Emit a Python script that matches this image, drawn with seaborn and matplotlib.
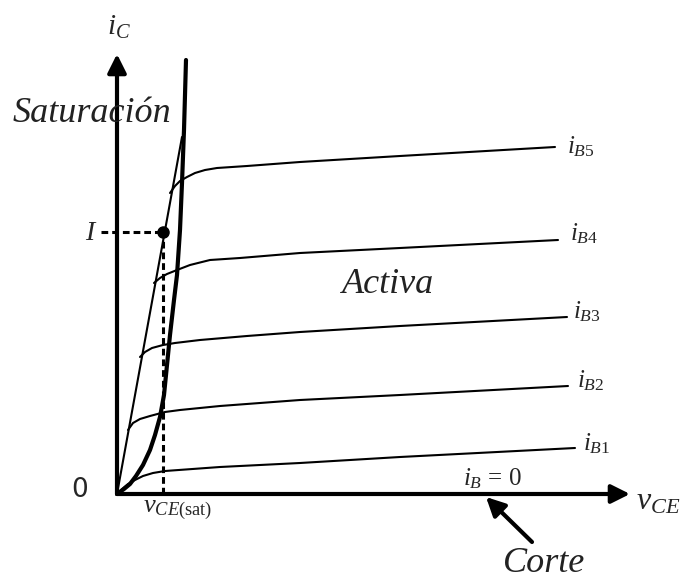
import numpy as np
import pandas as pd
import matplotlib
matplotlib.use("Agg")
import matplotlib.pyplot as plt
import seaborn as sns

# ---- data (x = v_CE, y = i_C, arbitrary units measured from origin) ----
ib5_x = [53, 58, 63, 70, 78, 88, 100, 130, 183, 283, 438]
ib5_y = [301, 308, 313, 317, 321, 324, 326, 328, 332, 338, 347]
ib4_x = [37, 43, 50, 60, 73, 93, 123, 183, 283, 441]
ib4_y = [211, 216, 220, 224, 229, 234, 236, 241, 246, 254]
ib3_x = [23, 28, 35, 46, 58, 83, 130, 183, 283, 450]
ib3_y = [137, 142, 146, 149, 151, 154, 158, 162, 168, 177]
ib2_x = [11, 16, 23, 33, 48, 63, 103, 183, 283, 451]
ib2_y = [64, 71, 75, 78, 82, 84, 88, 94, 99, 108]
ib1_x = [0, 5, 11, 18, 26, 36, 48, 103, 183, 283, 458]
ib1_y = [0, 5, 10, 14, 18, 21, 23, 27, 31, 37, 46]
ohmic_x = [0, 65]
ohmic_y = [0, 357]
sat_x = [0, 7, 13, 19, 26, 33, 38, 43, 47, 50, 53, 57, 60, 63, 65, 67, 69]
sat_y = [0, 5, 10, 18, 29, 44, 59, 77, 99, 129, 159, 194, 219, 264, 311, 364, 434]
q_x, q_y = 46, 262          # operating point (v_CE(sat), I)
curve_labels = [r"$i_{\mathit{B5}}$", r"$i_{\mathit{B4}}$", r"$i_{\mathit{B3}}$",
                r"$i_{\mathit{B2}}$", r"$i_{\mathit{B1}}$"]

sns.set_theme(style="white")
plt.rcParams["mathtext.fontset"] = "custom"
plt.rcParams["mathtext.it"] = "Liberation Serif:italic"
plt.rcParams["mathtext.rm"] = "Liberation Serif"
plt.rcParams["mathtext.bf"] = "Liberation Serif:bold"

fig = plt.figure(figsize=(6.83, 5.81), dpi=100)
ax = fig.add_axes([0, 0, 1, 1])
ax.set_xlim(-117, 566)
ax.set_ylim(-87, 494)
ax.axis("off")

curves = [(ib5_x, ib5_y), (ib4_x, ib4_y), (ib3_x, ib3_y), (ib2_x, ib2_y), (ib1_x, ib1_y)]
for cx, cy in curves:
    sns.lineplot(x=cx, y=cy, sort=False, estimator=None, color="black", lw=1.5,
                 solid_joinstyle="round", ax=ax)
sns.lineplot(x=ohmic_x, y=ohmic_y, sort=False, estimator=None, color="black", lw=1.5, ax=ax)
sns.lineplot(x=sat_x, y=sat_y, sort=False, estimator=None, color="black", lw=3.0,
             solid_joinstyle="round", ax=ax)

# dashed guides and point
ax.plot([q_x, q_x], [0, q_y], color="black", lw=2.2, ls=(0, (2.2, 1.3)))
ax.plot([-16, q_x], [q_y, q_y], color="black", lw=2.2, ls=(0, (2.2, 1.3)))
ax.plot([q_x], [q_y], "o", color="black", ms=8)

# axes arrows
arrow_kw = dict(arrowstyle="-|>", lw=3, color="black", mutation_scale=28,
                shrinkA=0, shrinkB=0)
ax.annotate("", xy=(513, 0), xytext=(0, 0), arrowprops=arrow_kw)
ax.annotate("", xy=(0, 440), xytext=(0, 0), arrowprops=arrow_kw)
# Corte arrow
ax.annotate("", xy=(369, -3), xytext=(415, -48), arrowprops=arrow_kw)

serif = "Liberation Serif"
ax.text(-10, 459, r"$i_C$", fontsize=21, ha="left", va="baseline")
ax.text(-104, 372, "Saturación", fontsize=26, family=serif, style="italic",
        ha="left", va="baseline", color="#222222")
ax.text(-32, 254, "I", fontsize=20, family=serif, style="italic", ha="left", va="baseline")
ax.text(-37, -3, "0", fontsize=19, family="DejaVu Sans", ha="center", va="baseline")
ax.text(26, -18, r"$v_{CE\mathrm{(sat)}}$", fontsize=19, ha="left", va="baseline")
ax.text(225, 201, "Activa", fontsize=26, family=serif, style="italic",
        ha="left", va="baseline", color="#222222")
label_pos = [(450, 341), (453, 254), (456, 176), (460, 107), (466, 44)]
for (lx, ly), lab in zip(label_pos, curve_labels):
    ax.text(lx, ly, lab, fontsize=18, ha="left", va="baseline")
ax.text(346, 9, r"$i_B\,=\,0$", fontsize=18, ha="left", va="baseline")
ax.text(519, -16, r"$v_{CE}$", fontsize=23, ha="left", va="baseline")
ax.text(386, -78, "Corte", fontsize=26, family=serif, style="italic",
        ha="left", va="baseline", color="#222222")

fig.savefig("out.png", dpi=100)
